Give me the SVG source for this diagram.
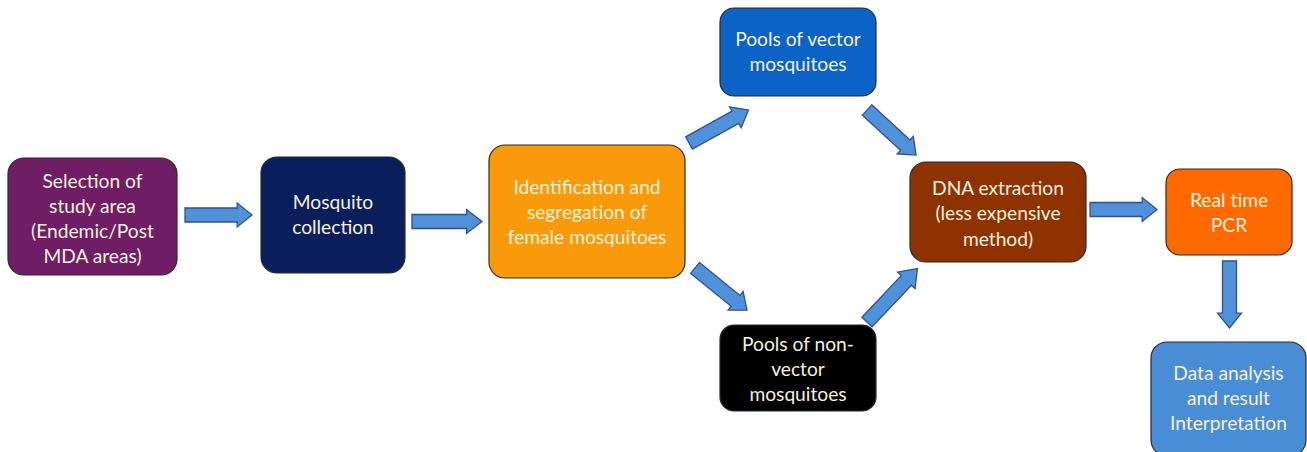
<svg xmlns="http://www.w3.org/2000/svg" xmlns:xlink="http://www.w3.org/1999/xlink" width="1307" height="452" viewBox="0 0 1307 452">
<style>
.box{stroke:#2b2b2b;stroke-width:1.2}
.t{font-family:Lato,"Liberation Sans",sans-serif;font-size:19.2px;fill:#F6F1DC;text-anchor:middle}
.arr{fill:#5191DA;stroke:#2F528F;stroke-width:1.3;stroke-linejoin:miter}
</style>
<defs>
<path id="a" d="M0,-7 H53 V-12 L68,0 L53,12 V7 H0 Z"/>
</defs>
<rect width="1307" height="452" fill="#ffffff"/>
<g id="connectors">
<use href="#a" class="arr" transform="translate(185,215) scale(0.985,1)"/>
<use href="#a" class="arr" transform="translate(412,221.5) scale(1.03,1)"/>
<use href="#a" class="arr" transform="translate(689,143) rotate(-29)"/>
<use href="#a" class="arr" transform="translate(867,110) rotate(42.6) scale(0.98,1)"/>
<use href="#a" class="arr" transform="translate(695,268) rotate(39) scale(0.985,1)"/>
<use href="#a" class="arr" transform="translate(867,322) rotate(-46.6) scale(1.08,1)"/>
<use href="#a" class="arr" transform="translate(1090,209.5) scale(0.985,1)"/>
<use href="#a" class="arr" transform="translate(1229.5,261) rotate(90) scale(0.985,1)"/>
</g>
<g id="n1"><rect class="box" x="8" y="158" width="169" height="117" rx="16" fill="#6F1E66"/>
<text class="t" x="92.5" y="188">Selection of</text><text class="t" x="92.5" y="213">study area</text><text class="t" x="92.5" y="238">(Endemic/Post</text><text class="t" x="92.5" y="263">MDA areas)</text></g>
<g id="n2"><rect class="box" x="261" y="157" width="144" height="116" rx="16" fill="#0A1E5E"/>
<text class="t" x="333" y="209">Mosquito</text><text class="t" x="333" y="234">collection</text></g>
<g id="n3"><rect class="box" x="489" y="145" width="196" height="133" rx="16" fill="#F99A0B"/>
<text class="t" x="587" y="194">Identification and</text><text class="t" x="587" y="219">segregation of</text><text class="t" x="587" y="244">female mosquitoes</text></g>
<g id="n4"><rect class="box" x="720" y="8" width="156" height="88" rx="14" fill="#0B63C8"/>
<text class="t" x="798" y="46">Pools of vector</text><text class="t" x="798" y="71">mosquitoes</text></g>
<g id="n5"><rect class="box" x="720" y="325" width="156" height="86" rx="14" fill="#000000"/>
<text class="t" x="798" y="351">Pools of non-</text><text class="t" x="798" y="376">vector</text><text class="t" x="798" y="401">mosquitoes</text></g>
<g id="n6"><rect class="box" x="910" y="162" width="176" height="100" rx="16" fill="#8E3300"/>
<text class="t" x="998" y="195">DNA extraction</text><text class="t" x="998" y="220">(less expensive</text><text class="t" x="998" y="246">method)</text></g>
<g id="n7"><rect class="box" x="1166" y="169" width="126" height="86" rx="14" fill="#FF6A00"/>
<text class="t" x="1229" y="207">Real time</text><text class="t" x="1229" y="232">PCR</text></g>
<g id="n8"><rect class="box" x="1151" y="342" width="155" height="114" rx="16" fill="#4A8DD7"/>
<text class="t" x="1228.5" y="380">Data analysis</text><text class="t" x="1228.5" y="405">and result</text><text class="t" x="1228.5" y="430">Interpretation</text></g>
</svg>
